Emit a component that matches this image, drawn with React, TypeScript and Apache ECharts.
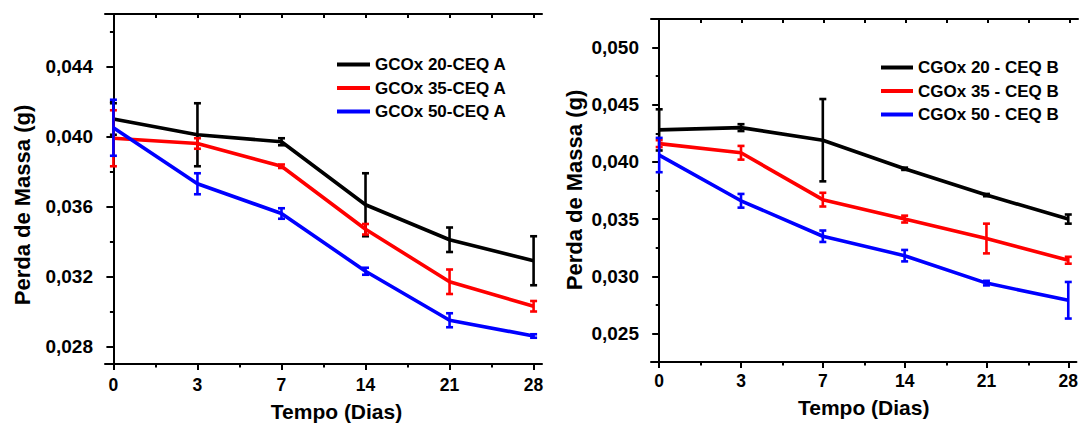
import React, { useEffect, useRef } from "react";
import * as echarts from "echarts";

const days = ["0", "3", "7", "14", "21", "28"];
const colors = ["#000000", "#ff0000", "#0000ff"];

const namesA = ["GCOx 20-CEQ A", "GCOx 35-CEQ A", "GCOx 50-CEQ A"];
const a20 = [0.041, 0.0401, 0.0397, 0.0361, 0.0341, 0.0329];
const a20err = [0.0009, 0.0018, 0.0002, 0.0018, 0.0007, 0.0014];
const a35 = [0.0399, 0.0396, 0.0383, 0.0347, 0.0317, 0.0303];
const a35err = [0.0016, 0.0003, 0.0001, 0.0003, 0.0007, 0.0003];
const a50 = [0.0405, 0.0373, 0.0356, 0.0323, 0.0295, 0.0286];
const a50err = [0.0016, 0.0006, 0.0003, 0.0002, 0.0004, 0.0001];

const namesB = ["CGOx 20 - CEQ B", "CGOx 35 - CEQ B", "CGOx 50 - CEQ B"];
const b20 = [0.0428, 0.043, 0.0419, 0.0394, 0.0371, 0.035];
const b20err = [0.0018, 0.0003, 0.0036, 0.0001, 0.0001, 0.0004];
const b35 = [0.0416, 0.0408, 0.0367, 0.035, 0.0333, 0.0314];
const b35err = [0.0003, 0.0006, 0.0006, 0.0003, 0.0013, 0.0003];
const b50 = [0.0406, 0.0366, 0.0335, 0.0318, 0.0294, 0.0279];
const b50err = [0.0015, 0.0006, 0.0005, 0.0005, 0.0002, 0.0016];

const yTicksA = [0.028, 0.032, 0.036, 0.04, 0.044];
const yMinorA = [0.03, 0.034, 0.038, 0.042, 0.046];
const yTicksB = [0.025, 0.03, 0.035, 0.04, 0.045, 0.05];
const yMinorB = [0.0275, 0.0325, 0.0375, 0.0425, 0.0475];

const xTitle = "Tempo (Dias)";
const yTitle = "Perda de Massa (g)";

const FONT = "Liberation Sans, Arial, sans-serif";

export default function App() {
  const ref = useRef<HTMLDivElement>(null);
  useEffect(() => {
    if (!ref.current) return;
    const chart = echarts.init(ref.current, undefined, { renderer: "svg" });
    const xIdx = days.map((_, i) => i);
    const xMinor = [0.5, 1.5, 2.5, 3.5, 4.5];
    const fmtY = (v: number) => v.toFixed(3).replace(".", ",");

    const grids = [
      { left: 105, top: 14, width: 437, height: 350 },
      { left: 651, top: 19, width: 427, height: 343 },
      { left: 105, top: 14, width: 437, height: 350 },
      { left: 651, top: 19, width: 427, height: 343 },
    ];
    const yRange = [
      [0.027, 0.047],
      [0.0225, 0.0525],
    ];
    const lineStyle = { color: "#000", width: 2 };

    const xAxis: any[] = [];
    const yAxis: any[] = [];
    [0, 1].forEach((g) => {
      xAxis.push({
        type: "value",
        gridIndex: g,
        min: -0.1,
        max: 5.1,
        position: "bottom",
        axisLine: { show: true, lineStyle },
        axisTick: { show: true, length: 6, lineStyle, customValues: xIdx },
        axisLabel: {
          customValues: xIdx,
          formatter: (v: number) => days[Math.round(v)],
          fontSize: 17.5,
          fontWeight: "bold",
          fontFamily: FONT,
          color: "#000",
          margin: g === 0 ? 12 : 10,
        },
        splitLine: { show: false },
        name: xTitle,
        nameLocation: "middle",
        nameGap: g === 0 ? 37 : 35,
        nameTextStyle: {
          fontSize: 21,
          fontWeight: "bold",
          fontFamily: FONT,
          color: "#000",
          padding: g === 0 ? [0, 0, 0, 26] : 0,
        },
      });
      yAxis.push({
        type: "value",
        gridIndex: g,
        min: yRange[g][0],
        max: yRange[g][1],
        position: "left",
        axisLine: { show: true, lineStyle },
        axisTick: { show: true, length: 7, lineStyle, customValues: g === 0 ? yTicksA : yTicksB },
        axisLabel: {
          customValues: g === 0 ? yTicksA : yTicksB,
          formatter: fmtY,
          fontSize: 19,
          fontWeight: "bold",
          fontFamily: FONT,
          color: "#000",
          margin: 12,
        },
        splitLine: { show: false },
      });
    });
    [0, 1].forEach((g) => {
      const gi = g + 2;
      xAxis.push({
        type: "value",
        gridIndex: gi,
        min: -0.1,
        max: 5.1,
        position: "bottom",
        axisLine: { show: false },
        axisTick: { show: true, length: 3.5, lineStyle, customValues: xMinor },
        axisLabel: { show: false },
        splitLine: { show: false },
      });
      xAxis.push({
        type: "value",
        gridIndex: gi,
        min: -0.1,
        max: 5.1,
        position: "top",
        axisLine: { show: true, lineStyle },
        axisTick: { show: true, inside: true, length: 4, lineStyle, customValues: [...xIdx, ...xMinor] },
        axisLabel: { show: false },
        splitLine: { show: false },
      });
      yAxis.push({
        type: "value",
        gridIndex: gi,
        min: yRange[g][0],
        max: yRange[g][1],
        position: "left",
        axisLine: { show: false },
        axisTick: { show: true, length: 3.5, lineStyle, customValues: g === 0 ? yMinorA : yMinorB },
        axisLabel: { show: false },
        splitLine: { show: false },
      });
      yAxis.push({
        type: "value",
        gridIndex: gi,
        min: yRange[g][0],
        max: yRange[g][1],
        position: "right",
        axisLine: { show: true, lineStyle },
        axisTick: { show: false },
        axisLabel: { show: false },
        splitLine: { show: false },
      });
    });

    const groups = [
      { names: namesA, vals: [a20, a35, a50], errs: [a20err, a35err, a50err], axis: 0 },
      { names: namesB, vals: [b20, b35, b50], errs: [b20err, b35err, b50err], axis: 1 },
    ];
    const series: any[] = [];
    groups.forEach((grp) => {
      grp.vals.forEach((vals, k) => {
        const color = colors[k];
        series.push({
          type: "line",
          name: grp.names[k],
          xAxisIndex: grp.axis,
          yAxisIndex: grp.axis,
          data: vals.map((v, i) => [i, v]),
          showSymbol: false,
          symbol: "none",
          lineStyle: { color, width: 3.6 },
          itemStyle: { color },
          z: 2 + k,
        });
        series.push({
          type: "custom",
          name: grp.names[k] + " err",
          xAxisIndex: grp.axis,
          yAxisIndex: grp.axis,
          data: vals.map((v, i) => [i, v, grp.errs[k][i]]),
          z: 2 + k,
          renderItem: (params: any, api: any) => {
            const x = api.value(0);
            const v = api.value(1);
            const e = api.value(2);
            const hi = api.coord([x, v + e]);
            const lo = api.coord([x, v - e]);
            const w = 3.5;
            const st = { stroke: color, lineWidth: 2.6 };
            return {
              type: "group",
              children: [
                { type: "line", shape: { x1: hi[0], y1: hi[1], x2: lo[0], y2: lo[1] }, style: st },
                { type: "line", shape: { x1: hi[0] - w, y1: hi[1], x2: hi[0] + w, y2: hi[1] }, style: st },
                { type: "line", shape: { x1: lo[0] - w, y1: lo[1], x2: lo[0] + w, y2: lo[1] }, style: st },
              ],
            };
          },
        });
      });
    });

    const legendCommon = {
      orient: "vertical",
      icon: "rect",
      itemWidth: 33,
      itemHeight: 4,
      itemGap: 6.5,
      textStyle: { fontSize: 17, fontWeight: "bold", fontFamily: FONT, color: "#000", lineHeight: 17 },
      selectedMode: false,
    };

    const titleStyle = {
      text: yTitle,
      fontSize: 22,
      fontWeight: "bold",
      fontFamily: FONT,
      fill: "#000",
      align: "center",
      verticalAlign: "middle",
    };

    chart.setOption({
      animation: false,
      backgroundColor: "#ffffff",
      grid: grids,
      xAxis,
      yAxis,
      legend: [
        { ...legendCommon, left: 332, top: 51, data: namesA },
        { ...legendCommon, left: 876, top: 54, itemWidth: 32, data: namesB },
      ],
      graphic: [
        { type: "text", x: 22, y: 205, rotation: Math.PI / 2, style: titleStyle },
        { type: "text", x: 574, y: 190, rotation: Math.PI / 2, style: titleStyle },
      ],
      series,
    });
    return () => chart.dispose();
  }, []);
  return (
    <div
      ref={ref}
      style={{ position: "fixed", left: 0, top: 0, width: 1081, height: 428, background: "#fff" }}
    />
  );
}
